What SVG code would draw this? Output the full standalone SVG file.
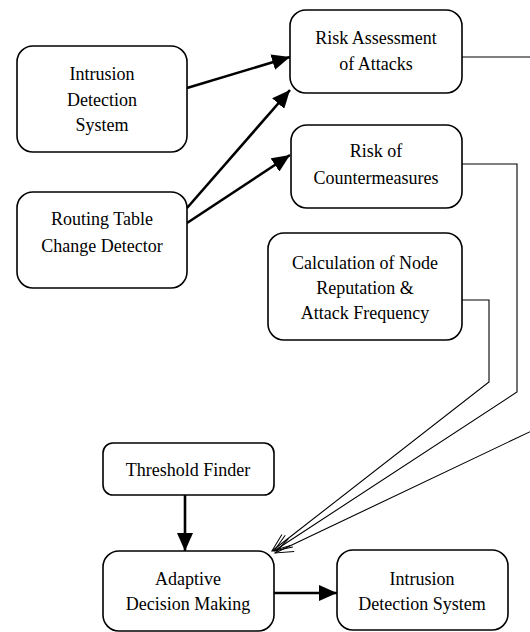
<svg xmlns="http://www.w3.org/2000/svg" width="530" height="632" viewBox="0 0 530 632">
<style>
.box{fill:#fff;stroke:#000;stroke-width:1.6}
.t{font-size:18px;fill:#000;text-anchor:middle}
.thick{fill:none;stroke:#000;stroke-width:2.6}
.thin{fill:none;stroke:#000;stroke-width:1.1}
</style>
<defs>
<marker id="ah" markerUnits="userSpaceOnUse" markerWidth="20" markerHeight="16" refX="18" refY="8" orient="auto">
<path d="M0,0 L18,8 L0,16 Z" fill="#000"/>
</marker>
<marker id="oh" markerUnits="userSpaceOnUse" markerWidth="22" markerHeight="20" refX="20" refY="10" orient="auto">
<path d="M2,3 L20,10 L2,17" fill="none" stroke="#000" stroke-width="1"/>
</marker>
</defs>
<g id="connectors">
<line class="thick" x1="187" y1="88" x2="290" y2="57" marker-end="url(#ah)"/>
<line class="thick" x1="187" y1="208" x2="290" y2="90" marker-end="url(#ah)"/>
<line class="thick" x1="187" y1="223" x2="290" y2="155" marker-end="url(#ah)"/>
<line class="thick" x1="185" y1="495" x2="185" y2="551" marker-end="url(#ah)"/>
<line class="thick" x1="274" y1="593" x2="337" y2="593" marker-end="url(#ah)"/>
<polyline class="thin" points="462,300 489,300 489,382 272,551" marker-end="url(#oh)"/>
<polyline class="thin" points="462,164 517,164 517,392 274,551" marker-end="url(#oh)"/>
<polyline class="thin" points="462,57 540,57 540,427 275,553" marker-end="url(#oh)"/>
</g>
<g font-family="Liberation Serif, DejaVu Serif, serif">
<g id="ids-top">
<rect class="box" x="17" y="46" width="170" height="106" rx="16"/>
<text class="t" x="102" y="80">Intrusion</text>
<text class="t" x="102" y="106">Detection</text>
<text class="t" x="102" y="131">System</text>
</g>
<g id="routing">
<rect class="box" x="17" y="192" width="170" height="96" rx="16"/>
<text class="t" x="102" y="225">Routing Table</text>
<text class="t" x="102" y="252">Change Detector</text>
</g>
<g id="risk-attacks">
<rect class="box" x="290" y="10" width="172" height="83" rx="16"/>
<text class="t" x="376" y="44">Risk Assessment</text>
<text class="t" x="376" y="70">of Attacks</text>
</g>
<g id="risk-counter">
<rect class="box" x="291" y="125" width="171" height="83" rx="16"/>
<text class="t" x="376" y="157">Risk of</text>
<text class="t" x="376" y="184">Countermeasures</text>
</g>
<g id="calc">
<rect class="box" x="268" y="233" width="194" height="107" rx="16"/>
<text class="t" x="365" y="269">Calculation of Node</text>
<text class="t" x="365" y="294">Reputation &amp;</text>
<text class="t" x="365" y="319">Attack Frequency</text>
</g>
<g id="threshold">
<rect class="box" x="103" y="443" width="171" height="52" rx="10"/>
<text class="t" x="188" y="476">Threshold Finder</text>
</g>
<g id="adaptive">
<rect class="box" x="103" y="551" width="171" height="80" rx="16"/>
<text class="t" x="188" y="585">Adaptive</text>
<text class="t" x="188" y="610">Decision Making</text>
</g>
<g id="ids-bottom">
<rect class="box" x="337" y="550" width="171" height="80" rx="16"/>
<text class="t" x="422" y="585">Intrusion</text>
<text class="t" x="422" y="610">Detection System</text>
</g>
</g>
</svg>
